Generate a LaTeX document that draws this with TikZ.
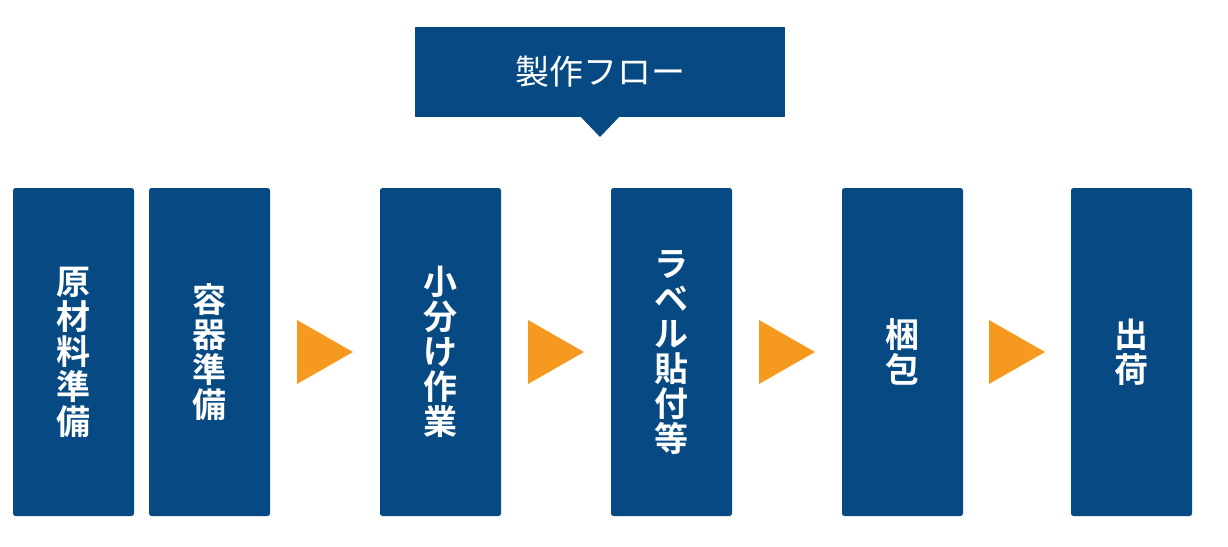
\documentclass[tikz,border=0pt]{standalone}
\usepackage{fontspec}
\newfontfamily\jp{Noto Sans CJK JP}[BoldFont={Noto Sans CJK JP Bold}]
\usetikzlibrary{calc,positioning}
\definecolor{flowblue}{HTML}{074A83}
\definecolor{floworange}{HTML}{F59A1E}

\begin{document}
\begin{tikzpicture}[x=1pt, y=-1pt,
    every node/.append style={font=\jp\bfseries, text=white},
    flowbox/.style={fill=flowblue, rounded corners=2.5pt, minimum width=121pt, minimum height=328pt, inner sep=0pt, align=center, font=\jp\bfseries\fontsize{34}{35}\selectfont},
    flowarrow/.style={fill=floworange}]
    \useasboundingbox (0,0) rectangle (1228,546);
    % title
    \node(TITLE)[fill=flowblue, minimum width=370pt, minimum height=90pt, inner sep=0pt, font=\jp\fontsize{34}{35}\selectfont] at (600,72) {製作フロー};
    \fill[flowblue] (580,116) -- (600,137) -- (620,116) -- cycle;
    % steps
    \node(raw)[flowbox] at (73.5,352) {原\\材\\料\\準\\備};
    \node(cont)[flowbox] at (209.5,352) {容\\器\\準\\備};
    \node(split)[flowbox] at (440.5,352) {小\\分\\け\\作\\業};
    \node(label)[flowbox] at (671.5,352) {ラ\\ベ\\ル\\貼\\付\\等};
    \node(pack)[flowbox] at (902.5,352) {梱\\包};
    \node(ship)[flowbox] at (1131.5,352) {出\\荷};
    \foreach \a/\b in {cont/split, split/label, label/pack, pack/ship}
      \fill[flowarrow] ($(\a.east)!0.5!(\b.west)$) ++(-28,-32) -- ++(56,32) -- ++(-56,32) -- cycle;
\end{tikzpicture}
\end{document}
